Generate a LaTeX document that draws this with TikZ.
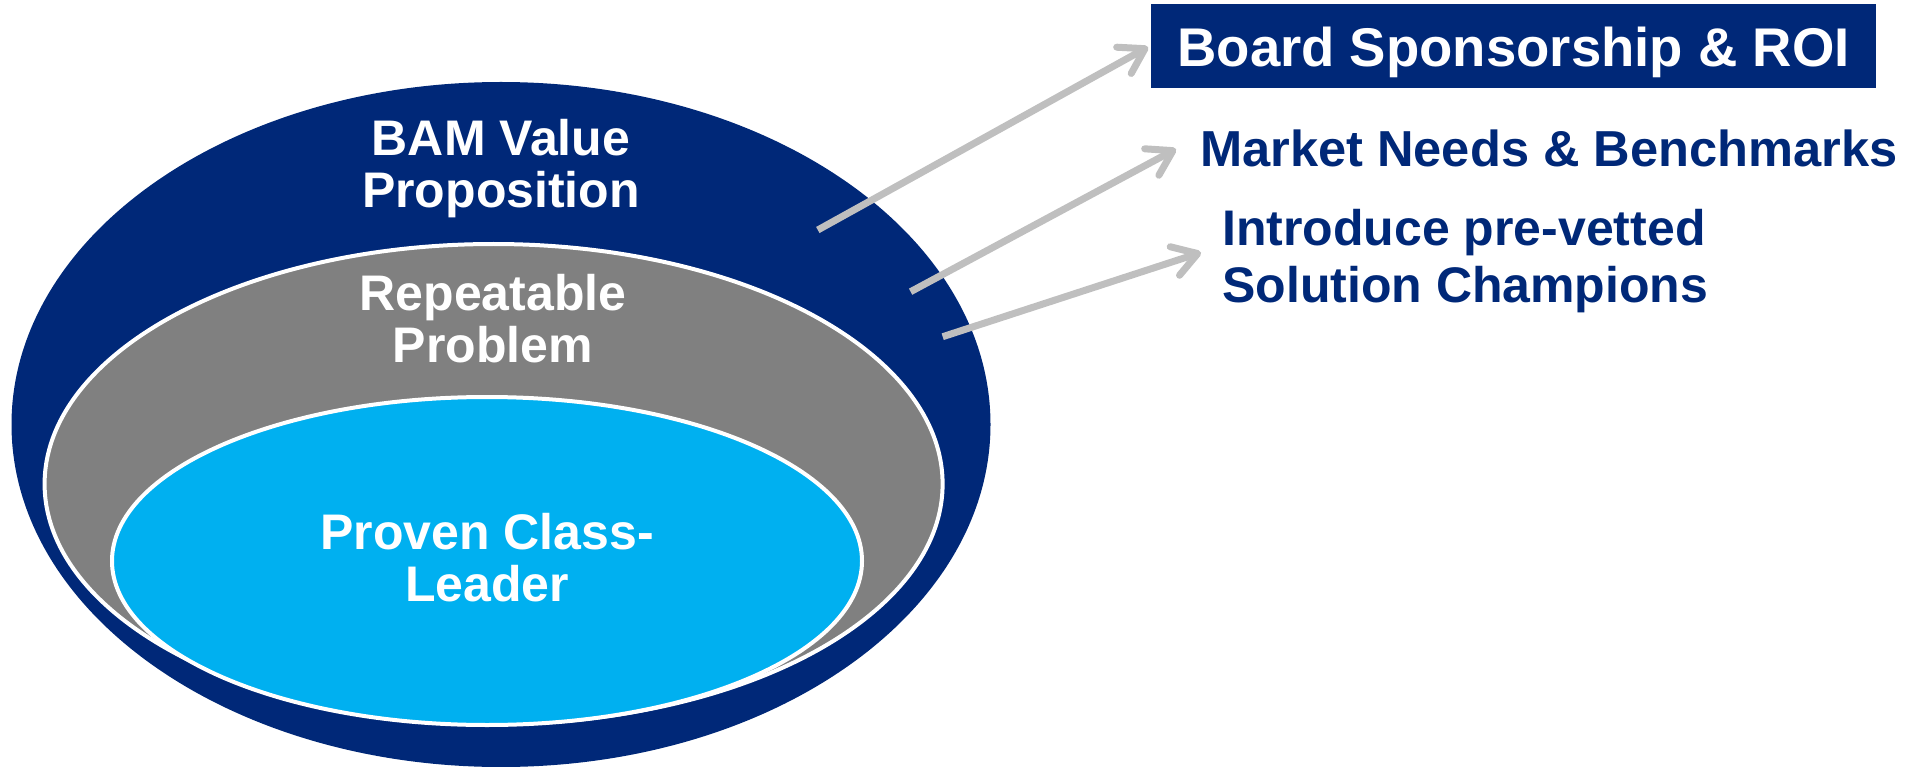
\documentclass[tikz,border=0pt]{standalone}
\usepackage{fontspec}
\setmainfont{Liberation Sans}
\usetikzlibrary{shapes.geometric,arrows.meta}
\definecolor{navy}{RGB}{0,40,120}
\definecolor{midgray}{RGB}{128,128,128}
\definecolor{skyblue}{RGB}{0,176,240}
\definecolor{arrowgray}{RGB}{191,191,191}
\tikzset{
  ring/.style={ellipse, inner sep=0pt},
  inlabel/.style={text=white, align=center, inner sep=0pt, font=\fontsize{50}{52}\selectfont\bfseries},
  sidelabel/.style={text=navy, inner sep=0pt, font=\fontsize{50}{57}\selectfont\bfseries},
  pointer/.style={draw=arrowgray, line width=7pt, -{Straight Barb[length=24pt,width=30pt,round]}}
}
\begin{document}
\begin{tikzpicture}[x=1pt,y=-1pt]
\useasboundingbox (0,0) rectangle (1919,767);
% nested ellipses
\node[ring, fill=navy, minimum width=979pt, minimum height=685pt] (outer) at (501,424.5) {};
\node[ring, fill=midgray, draw=white, line width=4pt, minimum width=898pt, minimum height=480pt] (middle) at (493.6,484) {};
\node[ring, fill=skyblue, draw=white, line width=4pt, minimum width=750pt, minimum height=328pt] (inner) at (487,561) {};
% labels inside
\node[inlabel] (bam) at (501,169) {BAM Value\\Proposition};
\node[inlabel] (rep) at (493,318.5) {Repeatable\\Problem};
\node[inlabel] (pcl) at (487,558) {Proven Class-\\Leader};
% side labels
\node[fill=navy, text=white, inner xsep=0pt, inner ysep=0pt, minimum width=725pt,
      text height=62pt, text depth=22pt, font=\fontsize{54.5}{60}\selectfont\bfseries]
      (board) at (1513.5,66.5) [anchor=base] {Board Sponsorship \& ROI};
\node[sidelabel, anchor=base west, font=\fontsize{50.6}{57}\selectfont\bfseries] (market) at (1200,166.7) {Market Needs \& Benchmarks};
\node[sidelabel, anchor=north west, align=left] (intro) at (1222,209) {Introduce pre-vetted\\Solution Champions};
% arrows
\coordinate (s1) at (817.8,230);
\coordinate (e1) at (1148,47);
\coordinate (s2) at (910.6,291.7);
\coordinate (e2) at (1176,149);
\coordinate (s3) at (942.7,336.7);
\coordinate (e3) at (1201,252.5);
\draw[pointer] (s1) -- (e1);
\draw[pointer] (s2) -- (e2);
\draw[pointer] (s3) -- (e3);
\end{tikzpicture}
\end{document}
